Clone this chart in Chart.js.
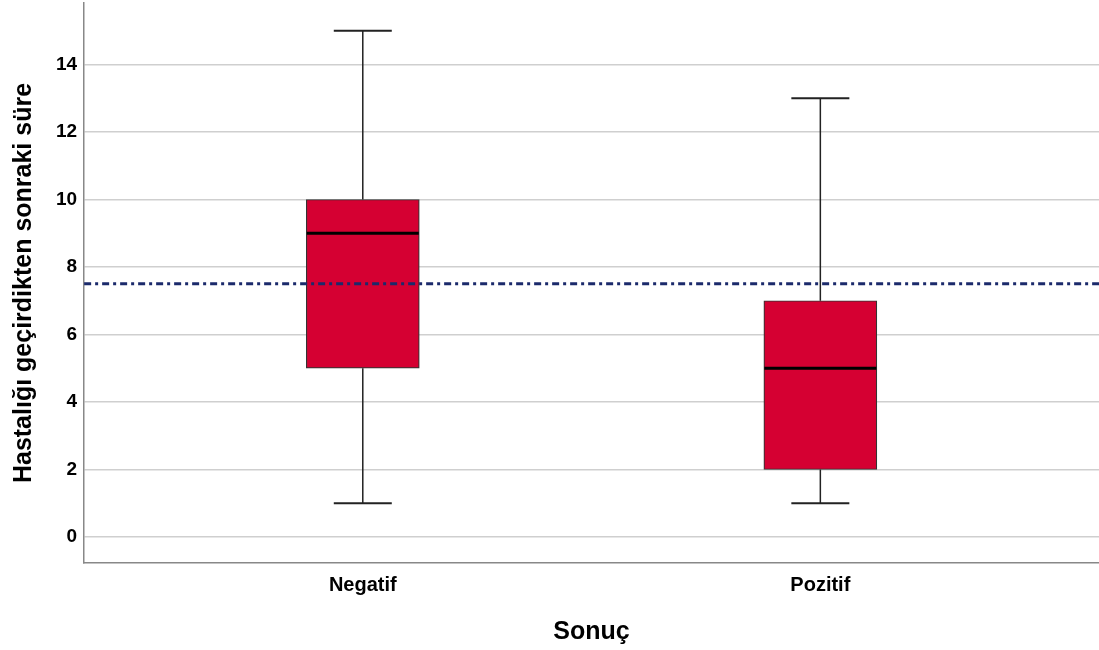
<!DOCTYPE html>
<html>
<head>
<meta charset="utf-8">
<script src="https://cdn.jsdelivr.net/npm/chart.js@4"></script>
<style>
  html, body { margin: 0; padding: 0; background: #fff; }
  #wrap { width: 1099px; height: 650px; }
</style>
</head>
<body>
<div id="wrap"><canvas id="box"></canvas></div>
<script>
// Box plot data
const categories = ['Negatif', 'Pozitif'];
const mins = [1, 1];
const q1s = [5, 2];
const medians = [9, 5];
const q3s = [10, 7];
const maxs = [15, 13];
const refLine = 7.5;
const yTicks = [0, 2, 4, 6, 8, 10, 12, 14];

const font = 'Arial, "Liberation Sans", sans-serif';

// whiskers, medians and the reference line
const boxExtras = {
    id: 'boxExtras',
    afterDatasetsDraw(chart) {
        const ctx = chart.ctx;
        const x = chart.scales.x;
        const y = chart.scales.y;
        const area = chart.chartArea;
        const half = 56;
        const cap = 29;
        ctx.save();
        categories.forEach((c, i) => {
            const cx = x.getPixelForValue(i);
            ctx.strokeStyle = '#222';
            ctx.lineWidth = 1.5;
            ctx.beginPath();
            ctx.moveTo(cx, y.getPixelForValue(q3s[i]));
            ctx.lineTo(cx, y.getPixelForValue(maxs[i]));
            ctx.moveTo(cx, y.getPixelForValue(q1s[i]));
            ctx.lineTo(cx, y.getPixelForValue(mins[i]));
            ctx.stroke();
            ctx.lineWidth = 2;
            ctx.beginPath();
            ctx.moveTo(cx - cap, y.getPixelForValue(maxs[i]));
            ctx.lineTo(cx + cap, y.getPixelForValue(maxs[i]));
            ctx.moveTo(cx - cap, y.getPixelForValue(mins[i]));
            ctx.lineTo(cx + cap, y.getPixelForValue(mins[i]));
            ctx.stroke();
            ctx.strokeStyle = '#000';
            ctx.lineWidth = 3;
            ctx.beginPath();
            ctx.moveTo(cx - half, y.getPixelForValue(medians[i]));
            ctx.lineTo(cx + half, y.getPixelForValue(medians[i]));
            ctx.stroke();
        });
        const ry = y.getPixelForValue(refLine);
        ctx.strokeStyle = '#1b2a6b';
        ctx.lineWidth = 3;
        ctx.setLineDash([7, 4, 3, 4]);
        ctx.beginPath();
        ctx.moveTo(area.left, ry);
        ctx.lineTo(area.right, ry);
        ctx.stroke();
        ctx.restore();
    }
};

new Chart(document.getElementById('box'), {
    type: 'bar',
    data: {
        datasets: [{
            data: categories.map((c, i) => ({ x: i, y: [q1s[i], q3s[i]] })),
            backgroundColor: '#d50032',
            borderColor: '#333',
            borderWidth: 1.2,
            borderSkipped: false,
            barThickness: 113
        }]
    },
    options: {
        responsive: true,
        maintainAspectRatio: false,
        animation: false,
        layout: { padding: { top: 3, right: 0, left: 9, bottom: 3 } },
        plugins: {
            legend: { display: false },
            tooltip: { enabled: false }
        },
        scales: {
            x: {
                type: 'linear',
                offset: false,
                min: -0.609,
                max: 1.609,
                afterBuildTicks: (axis) => { axis.ticks = categories.map((c, i) => ({ value: i })); },
                ticks: {
                    callback: (v) => categories[v],
                    color: '#000',
                    font: { family: font, size: 20, weight: 'bold' },
                    padding: 10
                },
                grid: { display: false, drawTicks: false },
                border: { display: true, color: '#888', width: 1.5 },
                title: {
                    display: true,
                    text: 'Sonuç',
                    color: '#000',
                    font: { family: font, size: 25, weight: 'bold' },
                    padding: { top: 10, bottom: 0 }
                }
            },
            y: {
                min: -0.77,
                max: 15.82,
                afterBuildTicks: (axis) => { axis.ticks = yTicks.map(v => ({ value: v })); },
                afterFit: (axis) => { axis.paddingTop = 0; axis.paddingBottom = 0; },
                ticks: {
                    color: '#000',
                    font: { family: font, size: 19, weight: 'bold' },
                    padding: 7
                },
                grid: { color: '#cfcfcf', lineWidth: 1.5, drawTicks: false },
                border: { display: true, color: '#888', width: 1.5 },
                title: {
                    display: true,
                    text: 'Hastalığı geçirdikten sonraki süre',
                    color: '#000',
                    font: { family: font, size: 25, weight: 'bold' },
                    padding: { top: 0, bottom: 10 }
                }
            }
        }
    },
    plugins: [boxExtras]
});
</script>
</body>
</html>
